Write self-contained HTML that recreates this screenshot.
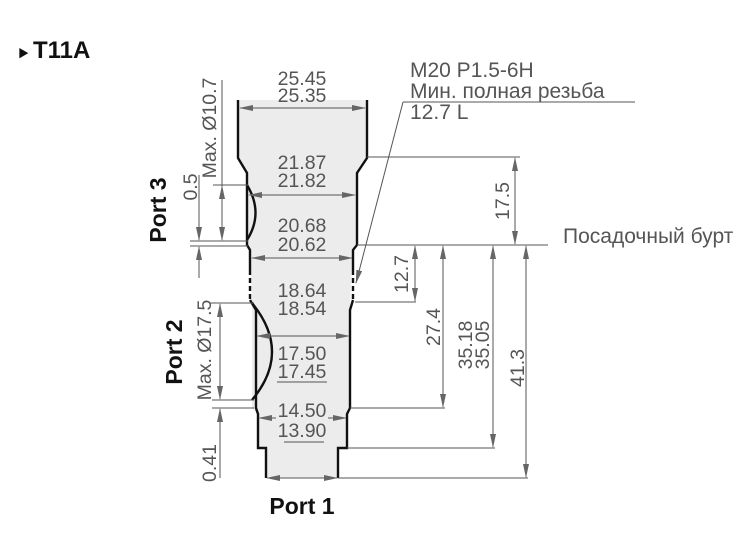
<!DOCTYPE html>
<html><head><style>
body{margin:0;background:#fff;}
svg{display:block;font-family:"Liberation Sans","Noto Sans CJK SC",sans-serif;}
.d{fill:#555;font-size:19.5px;}
.p{fill:#111;font-size:23px;font-weight:bold;}
.l{stroke:#555;stroke-width:1;fill:none;}
.o{stroke:#111;stroke-width:2.4;fill:none;}
</style></head><body>
<svg width="750" height="545" viewBox="0 0 750 545">
<defs>
<marker id="a" markerWidth="14" markerHeight="8" refX="13" refY="4" orient="auto-start-reverse" markerUnits="userSpaceOnUse"><path d="M0,1 L14,4 L0,7 Z" fill="#666"/></marker>
</defs>
<text x="18" y="57" style="font-size:11px" fill="#111">▶</text>
<text x="33" y="58" style="font-size:24px;font-weight:bold" fill="#111">T11A</text>
<path d="M238,100 L367,100 L367,158 L357,173 L357,245 L353,250 L350,303 L350,408 L347,414 L347,448 L338,448 L338,478 L266,478 L266,448 L257,448 L257,414 L252,408 L252,303 L250,250 L247,245 L247,173 L238,158 Z" fill="#ececec"/>
<path class="o" d="M238,100 L238,158 L247,173 L247,245 L250,250 L250,270"/>
<path class="o" d="M250,300 L256,310 L256,408 L258,414 L258,448 L266,448 L266,478"/>
<path class="o" d="M367,100 L367,158 L357,173 L357,245 L353,250 L353,270"/>
<path class="o" d="M353,300 L350,310 L350,408 L347,414 L347,448 L338,448 L338,478"/>
<path class="o" stroke-dasharray="5,3" d="M250,270 L250,300 M353,270 L353,300"/>
<path class="o" d="M247,185 Q264,213 247,240"/>
<path class="o" d="M252,303 Q292,352 252,400"/>
<line class="l" x1="240" y1="108" x2="365" y2="108" marker-start="url(#a)" marker-end="url(#a)"/>
<line class="l" x1="249" y1="195" x2="355" y2="195" marker-start="url(#a)" marker-end="url(#a)"/>
<line class="l" x1="252" y1="258" x2="352" y2="258" marker-start="url(#a)" marker-end="url(#a)"/>
<line class="l" x1="257" y1="336" x2="349" y2="336" marker-start="url(#a)" marker-end="url(#a)"/>
<line class="l" x1="259" y1="418" x2="276" y2="418" marker-start="url(#a)"/>
<line class="l" x1="328" y1="418" x2="346" y2="418" marker-end="url(#a)"/>
<line class="l" x1="267" y1="478" x2="337" y2="478" marker-start="url(#a)" marker-end="url(#a)"/>
<line class="l" x1="277" y1="382" x2="327" y2="382"/>
<line class="l" x1="284" y1="442" x2="324" y2="442"/>
<g class="d" text-anchor="middle">
<text x="302" y="85">25.45</text><text x="302" y="102">25.35</text>
<text x="302" y="169">21.87</text><text x="302" y="187">21.82</text>
<text x="302" y="232">20.68</text><text x="302" y="251">20.62</text>
<text x="302" y="297">18.64</text><text x="302" y="315">18.54</text>
<text x="302" y="360">17.50</text><text x="302" y="378">17.45</text>
<text x="302" y="417">14.50</text><text x="302" y="437">13.90</text>
</g>
<line class="l" x1="367" y1="157" x2="520" y2="157"/>
<line class="l" x1="357" y1="245" x2="548" y2="245"/>
<line class="l" x1="355" y1="302" x2="416" y2="302"/>
<line class="l" x1="350" y1="408" x2="445" y2="408"/>
<line class="l" x1="347" y1="448" x2="495" y2="448"/>
<line class="l" x1="338" y1="478" x2="528" y2="478"/>
<line class="l" x1="515" y1="158" x2="515" y2="244" marker-start="url(#a)" marker-end="url(#a)"/>
<line class="l" x1="415" y1="246" x2="415" y2="301" marker-start="url(#a)" marker-end="url(#a)"/>
<line class="l" x1="443" y1="246" x2="443" y2="407" marker-start="url(#a)" marker-end="url(#a)"/>
<line class="l" x1="493" y1="246" x2="493" y2="447" marker-start="url(#a)" marker-end="url(#a)"/>
<line class="l" x1="526" y1="246" x2="526" y2="477" marker-start="url(#a)" marker-end="url(#a)"/>
<g class="d" text-anchor="middle">
<text transform="translate(509,201) rotate(-90)">17.5</text>
<text transform="translate(408,274) rotate(-90)">12.7</text>
<text transform="translate(440,327) rotate(-90)">27.4</text>
<text transform="translate(472,345) rotate(-90)">35.18</text>
<text transform="translate(489,345) rotate(-90)">35.05</text>
<text transform="translate(524,368) rotate(-90)">41.3</text>
</g>
<text class="d" x="563" y="243" style="font-size:21px">Посадочный бурт</text>
<text class="d" x="410" y="77" style="font-size:21px">M20  P1.5-6H</text>
<text class="d" x="410" y="98" style="font-size:21px">Мин. полная резьба</text>
<text class="d" x="410" y="119" style="font-size:21px">12.7 L</text>
<line class="l" x1="403" y1="102" x2="635" y2="102"/>
<line class="l" x1="403" y1="102" x2="356" y2="283" marker-end="url(#a)"/>
<line class="l" x1="222" y1="80" x2="222" y2="186"/>
<line class="l" x1="213" y1="185" x2="248" y2="185"/>
<line class="l" x1="190" y1="241" x2="248" y2="241"/>
<line class="l" x1="190" y1="246" x2="248" y2="246"/>
<line class="l" x1="222" y1="186" x2="222" y2="240" marker-start="url(#a)" marker-end="url(#a)"/>
<line class="l" x1="199" y1="175" x2="199" y2="240" marker-end="url(#a)"/>
<line class="l" x1="199" y1="278" x2="199" y2="247" marker-end="url(#a)"/>
<line class="l" x1="210" y1="303" x2="254" y2="303"/>
<line class="l" x1="212" y1="400" x2="254" y2="400"/>
<line class="l" x1="212" y1="408" x2="254" y2="408"/>
<line class="l" x1="220" y1="304" x2="220" y2="399" marker-start="url(#a)" marker-end="url(#a)"/>
<line class="l" x1="220" y1="478" x2="220" y2="409" marker-end="url(#a)"/>
<g class="d" text-anchor="middle">
<text transform="translate(216,128) rotate(-90)">Max. Ø10.7</text>
<text transform="translate(197,187) rotate(-90)">0.5</text>
<text transform="translate(211,350) rotate(-90)">Max. Ø17.5</text>
<text transform="translate(216,463) rotate(-90)">0.41</text>
</g>
<g class="p" text-anchor="middle">
<text transform="translate(166,210) rotate(-90)">Port 3</text>
<text transform="translate(182,352) rotate(-90)">Port 2</text>
<text x="302" y="514">Port 1</text>
</g>
</svg>
</body></html>
